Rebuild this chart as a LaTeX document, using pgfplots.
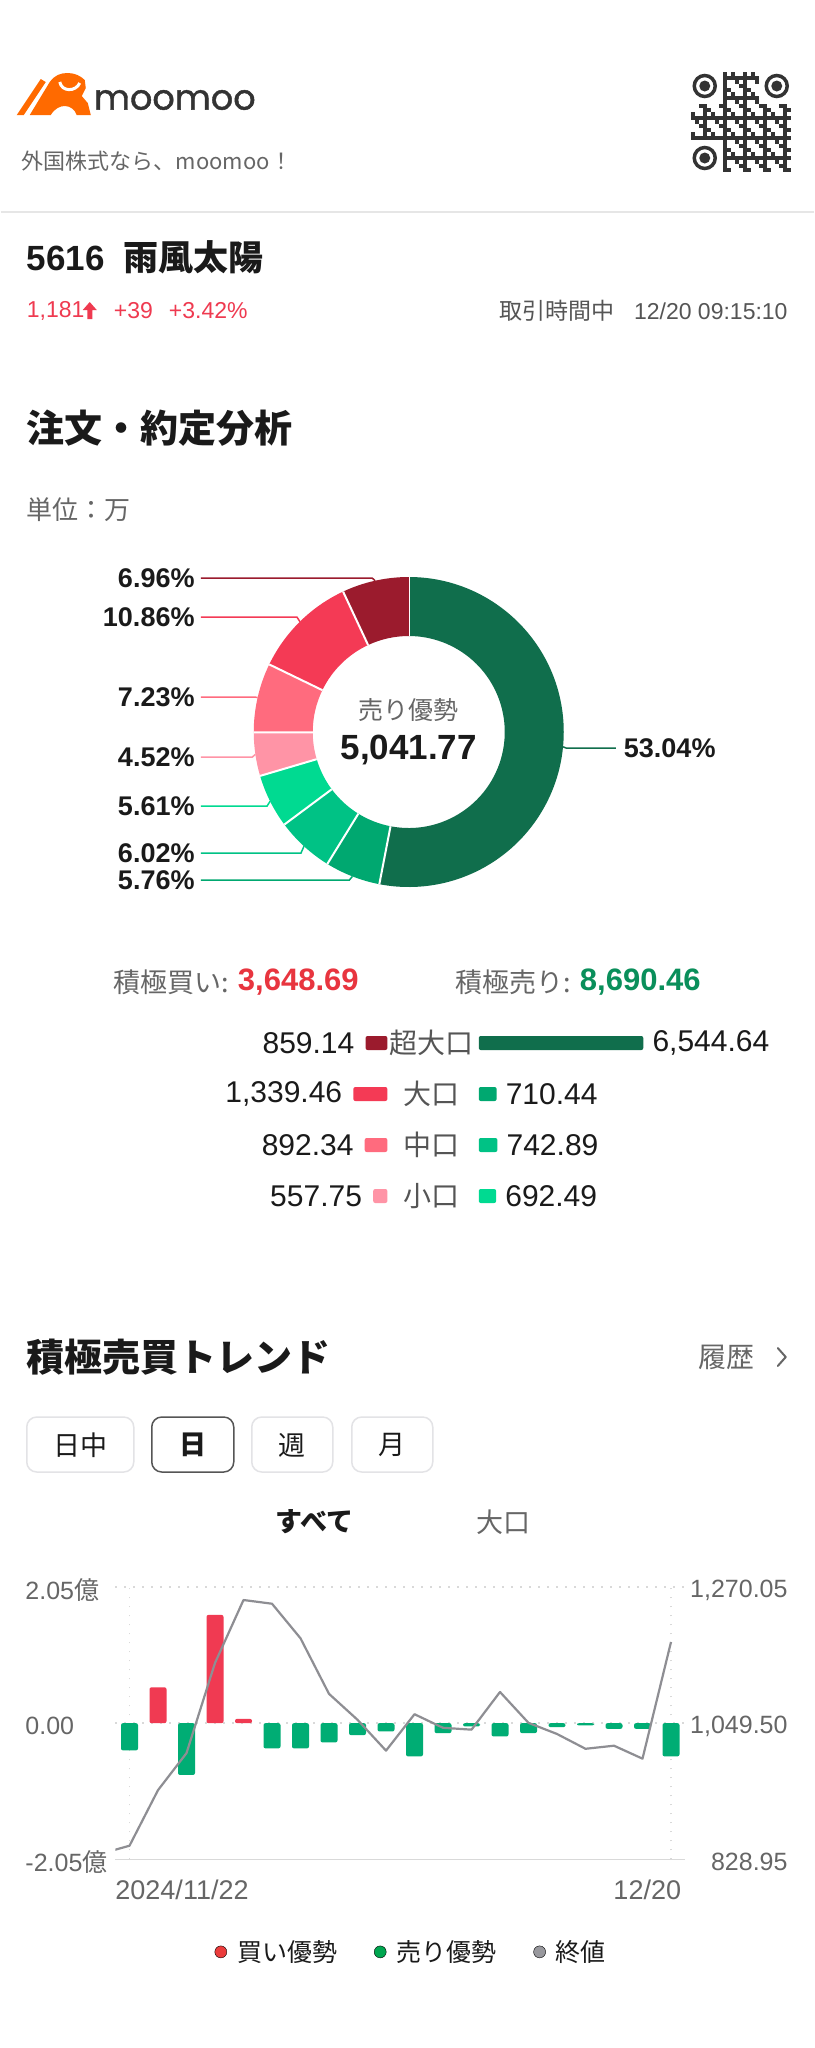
\documentclass[border=0pt]{standalone}
\usepackage{pgfplots}
\pgfplotsset{compat=1.18}
\usepackage{pgfplotstable}
\usepackage{fontspec}
\setmainfont{Liberation Sans}
\newfontfamily\jp{Noto Sans CJK JP}
\newfontfamily\logofont{Poppins}[FakeBold=1.2]
\newcommand\fs[1]{\fontsize{#1}{#1}\selectfont}

\definecolor{txt}{HTML}{1A1A1A}
\definecolor{sub}{HTML}{666666}
\definecolor{sub2}{HTML}{555555}
\definecolor{sA}{HTML}{106E4C}
\definecolor{sB}{HTML}{00A870}
\definecolor{sC}{HTML}{00C285}
\definecolor{sD}{HTML}{00DA91}
\definecolor{bA}{HTML}{9B1B2D}
\definecolor{bB}{HTML}{F43A55}
\definecolor{bC}{HTML}{FF6B7E}
\definecolor{bD}{HTML}{FF94A6}
\definecolor{upred}{HTML}{EF3A50}
\definecolor{buyred}{HTML}{E8353F}
\definecolor{sellgrn}{HTML}{0A8F5B}
\definecolor{barred}{HTML}{F03A52}
\definecolor{bargrn}{HTML}{00AD74}
\definecolor{closeg}{HTML}{8E8E93}
\definecolor{legred}{HTML}{EB3C3C}
\definecolor{leggrn}{HTML}{00A650}
\definecolor{leggray}{HTML}{98989D}
\definecolor{moo}{HTML}{FF6A00}
\definecolor{logoc}{HTML}{333333}
\definecolor{gridc}{HTML}{D9D9D9}
\definecolor{sepc}{HTML}{E6E6E6}
\definecolor{btn}{HTML}{E3E3E6}

\pgfplotsset{/pgf/number format/assume math mode=true}
\newcommand\donutlab{\fs{27}\bfseries\color{txt}}

% share of each order size, %, clockwise from the top; ly = label row
\pgfplotstableread{
pct   col ly
53.04 sA  748
5.76  sB  880
6.02  sC  853
5.61  sD  806
4.52  bD  757
7.23  bC  697
10.86 bB  617
6.96  bA  578
}\donut

% daily net flow, 100M yen
\pgfplotstableread{
day buy
1 0.54
3 1.63
4 0.065
}\buyflow
\pgfplotstableread{
day sell
0 -0.41
2 -0.78
5 -0.38
6 -0.38
7 -0.29
8 -0.18
9 -0.125
10 -0.50
11 -0.15
12 -0.05
13 -0.20
14 -0.15
15 -0.06
16 -0.035
17 -0.085
18 -0.085
19 -0.50
}\sellflow
% close price
\pgfplotstableread{
day close
-1 838
0 851
1 941
2 1001
3 1147
4 1249
5 1243
6 1187
7 1097
8 1055
9 1005
10 1064
11 1042
12 1039
13 1100
14 1050
15 1032
16 1008
17 1013
18 992
19 1181
}\closes

\begin{document}
\begin{tikzpicture}
\begin{scope}[x=1pt,y=-1pt]
\fill[white] (0,0) rectangle (813,2048);

% --- header
\fill[moo] (16,115) -- (23,115) -- (45,82) -- (40,79) -- cycle;
\fill[moo] (29,115) -- (49,82) .. controls (54,75) and (60,73) .. (67,73)
  .. controls (74,73) and (80,76) .. (84,80) -- (85,88) -- (81,96) -- (87,103)
  -- (90,115) -- (76,115) .. controls (72,104) and (58,102) .. (50,115) -- cycle;
\draw[white, line width=3pt] (59,82) .. controls (61,92) and (75,92) .. (79,83);
\node[anchor=west,inner sep=0pt,font=\logofont\fs{35},text=logoc] at (93,100) {moomoo};
\node[anchor=west,inner sep=0pt,font=\jp\fs{22},text=sub] at (21,161) {外国株式なら、moomoo！};

\begin{scope}[shift={(690,72)}]
  \foreach \cx/\cy in {14/14, 86/14, 14/86}{
    \draw[logoc, line width=3.5pt] (\cx,\cy) circle[radius=10.5pt];
    \fill[logoc] (\cx,\cy) circle[radius=5.5pt];
  }
  \foreach \i in {0,...,24}{
    \foreach \j in {0,...,24}{
      \pgfmathtruncatemacro\skip{(\i<8 && \j<8) || (\i>16 && \j<8) || (\i<8 && \j>16)}
      \ifnum\skip=0
        \pgfmathtruncatemacro\b{mod(\i*7+\j*11+\i*\j*3,5)<2}
        \ifnum\b=1 \fill[logoc] (4*\i,4*\j) rectangle ++(4,4); \fi
      \fi
    }
  }
\end{scope}

\draw[sepc, line width=1.5pt] (0,212) -- (813,212);

\node[anchor=west,inner sep=0pt,font=\fs{35}\bfseries,text=txt] at (26,257.5)
  {5616\hspace{19pt}{\jp 雨風太陽}};
\node[anchor=west,inner sep=0pt,font=\fs{23},text=upred] at (26,311) {1,181};
\fill[upred] (82,310) -- (89,302) -- (96,310) -- (91.5,310) -- (91.5,319)
  -- (86.5,319) -- (86.5,310) -- cycle;
\node[anchor=west,inner sep=0pt,font=\fs{23},text=upred] at (113,311) {+39};
\node[anchor=west,inner sep=0pt,font=\fs{23},text=upred] at (168,311) {+3.42\%};
\node[anchor=east,inner sep=0pt,font=\fs{23},text=sub2] at (787,311)
  {{\jp 取引時間中}\hspace{20pt}12/20 09:15:10};

% --- order analysis
\node[anchor=west,inner sep=0pt,font=\jp\bfseries\fs{38},text=txt] at (26,428.5) {注文・約定分析};
\node[anchor=west,inner sep=0pt,font=\jp\fs{26},text=sub] at (26,510) {単位：万};

\node[inner sep=0pt,font=\jp\fs{25},text=sub] at (408,710) {売り優勢};
\node[inner sep=0pt,font=\fs{35}\bfseries,text=txt] at (408,750) {5,041.77};

\node[anchor=west,inner sep=0pt,font=\jp\fs{27},text=sub] at (113,982) {積極買い:};
\node[anchor=west,inner sep=0pt,font=\fs{31}\bfseries,text=buyred] at (237,982) {3,648.69};
\node[anchor=west,inner sep=0pt,font=\jp\fs{27},text=sub] at (455,982) {積極売り:};
\node[anchor=west,inner sep=0pt,font=\fs{31}\bfseries,text=sellgrn] at (579,982) {8,690.46};

\foreach \lab/\yy in {超大口/1043, 大口/1094, 中口/1145, 小口/1196}
  \node[inner sep=0pt,font=\jp\fs{28},text=sub2] at (431,\yy) {\lab};

% --- trend section
\node[anchor=west,inner sep=0pt,font=\jp\bfseries\fs{38},text=txt] at (26,1357) {積極売買トレンド};
\node[anchor=west,inner sep=0pt,font=\jp\fs{28},text=sub] at (698,1357) {履歴};
\draw[sub, line width=2pt, line cap=round, line join=round] (777,1348) -- (785,1357) -- (777,1366);

\draw[btn, line width=1.5pt, rounded corners=10pt] (26,1417) rectangle (133,1472);
\draw[sub2, line width=1.5pt, rounded corners=10pt] (151,1417) rectangle (233,1472);
\draw[btn, line width=1.5pt, rounded corners=10pt] (251,1417) rectangle (332,1472);
\draw[btn, line width=1.5pt, rounded corners=10pt] (351,1417) rectangle (432,1472);
\node[inner sep=0pt,font=\jp\fs{27},text=txt] at (79.5,1445) {日中};
\node[inner sep=0pt,font=\jp\bfseries\fs{27},text=txt] at (192,1445) {日};
\node[inner sep=0pt,font=\jp\fs{27},text=txt] at (291.5,1445) {週};
\node[inner sep=0pt,font=\jp\fs{27},text=txt] at (391.5,1445) {月};
\node[inner sep=0pt,font=\jp\bfseries\fs{27},text=txt] at (314,1522) {すべて};
\node[inner sep=0pt,font=\jp\fs{27},text=sub] at (503,1522) {大口};
\end{scope}

% --- donut
\begin{axis}[at={(408pt,-732pt)}, anchor=center, hide axis, clip=false,
  x=1pt, y=1pt, xmin=-160, xmax=160, ymin=-160, ymax=160]
  \def\cum{0}
  \pgfplotsforeachungrouped \i in {0,...,7}{%
    \pgfplotstablegetelem{\i}{pct}\of\donut \let\p\pgfplotsretval
    \pgfplotstablegetelem{\i}{col}\of\donut \let\c\pgfplotsretval
    \pgfplotstablegetelem{\i}{ly}\of\donut \let\ly\pgfplotsretval
    \pgfmathsetmacro\aS{90-3.6*\cum}
    \pgfmathsetmacro\cum{\cum+\p}
    \pgfmathsetmacro\aE{90-3.6*\cum}
    \pgfmathsetmacro\aM{(\aS+\aE)/2}
    \pgfmathsetmacro\xA{155*cos(\aS)}\pgfmathsetmacro\yA{155*sin(\aS)}
    \pgfmathsetmacro\xa{96*cos(\aS)}\pgfmathsetmacro\ya{96*sin(\aS)}
    \pgfmathsetmacro\xB{96*cos(\aE)}\pgfmathsetmacro\yB{96*sin(\aE)}
    \pgfmathsetmacro\xM{155*cos(\aM)}\pgfmathsetmacro\yM{155*sin(\aM)}
    \pgfmathsetmacro\yL{732-\ly}
    \edef\temp{\noexpand\fill[\c] (axis cs:\xA,\yA) arc[start angle=\aS, end angle=\aE, radius=155pt]
      -- (axis cs:\xB,\yB) arc[start angle=\aE, end angle=\aS, radius=96pt] -- cycle;
      \noexpand\draw[white, line width=2pt] (axis cs:\xa,\ya) -- (axis cs:\xA,\yA);}
    \temp
    \pgfmathtruncatemacro\side{\xM>0}
    \ifnum\side=1
      \pgfmathsetmacro\xK{\xM+3}
      \edef\temp{\noexpand\draw[\c, line width=1.5pt] (axis cs:\xM,\yM) -- (axis cs:\xK,\yL) -- (axis cs:207,\yL);
        \noexpand\node[anchor=west, inner sep=0pt, font=\noexpand\donutlab] at (axis cs:215,\yL) {\p\noexpand\%};}
    \else
      \pgfmathsetmacro\xK{\xM-3}
      \edef\temp{\noexpand\draw[\c, line width=1.5pt] (axis cs:\xM,\yM) -- (axis cs:\xK,\yL) -- (axis cs:-208,\yL);
        \noexpand\node[anchor=east, inner sep=0pt, font=\noexpand\donutlab] at (axis cs:-214,\yL) {\p\noexpand\%};}
    \fi
    \temp
  }
\end{axis}

% --- buy / sell by order size
\pgfplotsset{flowbars/.style={scale only axis, hide axis, clip=false,
  xbar, bar width=14pt, bar shift=0pt, y dir=reverse, ymin=0.5, ymax=4.5, height=204pt,
  point meta=x,
  nodes near coords={\pgfmathprintnumber[fixed,fixed zerofill,precision=2,1000 sep={,}]{\pgfplotspointmeta}}}}
\begin{axis}[flowbars, at={(386.6pt,-1017.5pt)}, anchor=north east,
  width=50.72pt, xmin=0, xmax=2000, x dir=reverse,
  every node near coord/.append style={anchor=east, inner sep=0pt, xshift=-11pt, font=\fs{30}, text=txt}]
  \addplot[fill=bA, draw=none, rounded corners=2pt] coordinates {(859.14,1)};
  \addplot[fill=bB, draw=none, rounded corners=2pt] coordinates {(1339.46,2)};
  \addplot[fill=bC, draw=none, rounded corners=2pt] coordinates {(892.34,3)};
  \addplot[fill=bD, draw=none, rounded corners=2pt] coordinates {(557.75,4)};
\end{axis}
\begin{axis}[flowbars, at={(478pt,-1017.5pt)}, anchor=north west,
  width=176pt, xmin=0, xmax=7000,
  every node near coord/.append style={anchor=west, inner sep=0pt, xshift=9pt, font=\fs{30}, text=txt}]
  \addplot[fill=sA, draw=none, rounded corners=2pt] coordinates {(6544.64,1)};
  \addplot[fill=sB, draw=none, rounded corners=2pt] coordinates {(710.44,2)};
  \addplot[fill=sC, draw=none, rounded corners=2pt] coordinates {(742.89,3)};
  \addplot[fill=sD, draw=none, rounded corners=2pt] coordinates {(692.49,4)};
\end{axis}

% --- trend: net flow bars (left axis)
\begin{axis}[at={(114.5pt,-1859.3pt)}, anchor=south west, scale only axis,
  width=570pt, height=272.3pt, clip mode=individual,
  xmin=-0.5, xmax=19.5, ymin=-2.05, ymax=2.05,
  axis line style={draw=none}, tick style={draw=none},
  ytick={-2.05,0,2.05}, yticklabels={{-2.05{\jp 億}},{0.00},{2.05{\jp 億}}},
  yticklabel style={anchor=west, inner sep=0pt, xshift=-90pt, yshift=-3pt, font=\fs{25}, text=sub},
  xtick={0,19}, xticklabels={},
  xmajorgrids, ymajorgrids,
  grid style={gridc, line width=1.5pt, dash pattern=on 1.5pt off 7.5pt},
  ybar, bar width=17pt, bar shift=0pt,
  legend columns=3,
  legend image code/.code={\fill (0pt,0pt) circle[radius=6pt];},
  legend style={draw=none, fill=none, at={(0.5175,-0.34)}, anchor=center,
    font=\jp\fs{25}, text=txt, nodes={inner sep=0pt},
    /tikz/every odd column/.append style={column sep=10pt},
    /tikz/every even column/.append style={column sep=37pt}},
  ]
  \draw[gridc, line width=1.5pt] (axis description cs:0,0) -- (axis description cs:1,0);
  \addplot[fill=barred, draw=none, rounded corners=2pt, forget plot] table[x=day,y=buy]{\buyflow};
  \addplot[fill=bargrn, draw=none, rounded corners=2pt, forget plot] table[x=day,y=sell]{\sellflow};
  \addlegendimage{fill=legred}\addlegendentry{買い優勢}
  \addlegendimage{fill=leggrn}\addlegendentry{売り優勢}
  \addlegendimage{fill=leggray}\addlegendentry{終値}
  \node[anchor=west, inner sep=0pt, font=\fs{27}, text=sub, yshift=-31pt]
    at (axis description cs:0,0) {2024/11/22};
  \node[anchor=east, inner sep=0pt, font=\fs{27}, text=sub, xshift=-4pt, yshift=-31pt]
    at (axis description cs:1,0) {12/20};
\end{axis}

% --- trend: close price (right axis)
\begin{axis}[at={(114.5pt,-1859.3pt)}, anchor=south west, scale only axis,
  width=570pt, height=272.3pt,
  xmin=-0.5, xmax=19.5, ymin=828.95, ymax=1270.05,
  axis line style={draw=none}, tick style={draw=none},
  xtick=\empty, ytick={828.95,1049.5,1270.05},
  yticklabels={828.95,{1,049.50},{1,270.05}},
  yticklabel pos=right,
  yticklabel style={anchor=east, inner sep=0pt, xshift=102.5pt, yshift=-3pt, font=\fs{25}, text=sub},
  ]
  \addplot[closeg, line width=2.2pt, line join=round, mark=none] table[x=day,y=close]{\closes};
\end{axis}
\end{tikzpicture}
\end{document}
